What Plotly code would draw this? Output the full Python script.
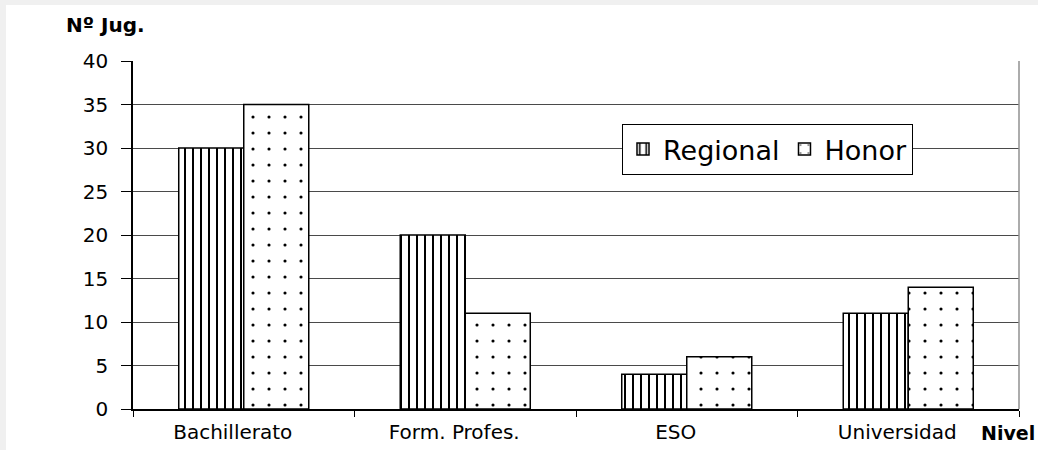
import plotly.graph_objects as go

categories = ["Bachillerato", "Form. Profes.", "ESO", "Universidad"]
regional = [30, 20, 4, 11]
honor = [35, 11, 6, 14]
y_ticks = [0, 5, 10, 15, 20, 25, 30, 35, 40]

W, H = 1038, 450
L, R, T, B = 133, 19, 61, 41
pw, ph = W - L - R, H - T - B

def px(x):
    return (x - L) / pw

def py(y):
    return (H - B - y) / ph

FONT = "DejaVu Sans, Arial, sans-serif"

fig = go.Figure()
fig.add_trace(go.Bar(
    x=categories, y=regional, name="Regional",
    marker=dict(color="white", line=dict(color="black", width=1.5),
                pattern=dict(shape="|", fgcolor="black", bgcolor="white",
                             size=8, solidity=0.25, fillmode="replace")),
))
fig.add_trace(go.Bar(
    x=categories, y=honor, name="Honor",
    marker=dict(color="white", line=dict(color="black", width=1.5),
                pattern=dict(shape=".", fgcolor="black", bgcolor="white",
                             size=16, solidity=0.03, fillmode="replace")),
))

fig.update_layout(
    width=W, height=H,
    margin=dict(l=L, r=R, t=T, b=B, pad=0, autoexpand=False),
    paper_bgcolor="white", plot_bgcolor="white",
    barmode="group", bargap=0.413, bargroupgap=0,
    font=dict(family=FONT, size=20, color="black"),
    showlegend=True,
    legend=dict(orientation="h", x=px(622), y=py(124), xanchor="left", yanchor="top",
                bgcolor="white", bordercolor="black", borderwidth=1,
                font=dict(family=FONT, size=27, color="black"),
                itemwidth=30, tracegroupgap=0),
    xaxis=dict(showline=True, linecolor="black", linewidth=1.5, automargin=False,
               ticks="outside", tickson="boundaries", ticklen=6, tickcolor="black",
               showgrid=False, ticklabelshift=-11, ticklabelstandoff=4,
               tickfont=dict(family=FONT, size=20)),
    yaxis=dict(range=[0, 40], tickvals=y_ticks, showline=True, linecolor="black", linewidth=1.5,
               automargin=False,
               ticks="outside", ticklen=10, tickcolor="black",
               showgrid=True, gridcolor="#4a4a4a", gridwidth=1.2, zeroline=False,
               ticklabelstandoff=9,
               tickfont=dict(family=FONT, size=20)),
    annotations=[
        dict(text="<b>Nº Jug.</b>", xref="paper", yref="paper", x=px(64), y=py(25),
             xanchor="left", yanchor="middle", showarrow=False,
             font=dict(family=FONT, size=20)),
        dict(text="<b>Nivel</b>", xref="paper", yref="paper", x=px(979), y=py(433),
             xanchor="left", yanchor="middle", showarrow=False,
             font=dict(family=FONT, size=19)),
    ],
    shapes=[
        dict(type="line", xref="paper", yref="paper", x0=1, x1=1, y0=0, y1=1,
             line=dict(color="#909090", width=1.5)),
        dict(type="rect", xref="paper", yref="paper", x0=px(0), x1=px(W), y0=py(0), y1=py(5),
             fillcolor="#f0f0f0", line=dict(width=0), layer="below"),
        dict(type="rect", xref="paper", yref="paper", x0=px(0), x1=px(6), y0=py(0), y1=py(H),
             fillcolor="#f0f0f0", line=dict(width=0), layer="below"),
    ],
)

fig.write_html("out.html", config={"displayModeBar": False},
               post_script="document.body.style.margin='0px';document.body.style.overflow='hidden';")
